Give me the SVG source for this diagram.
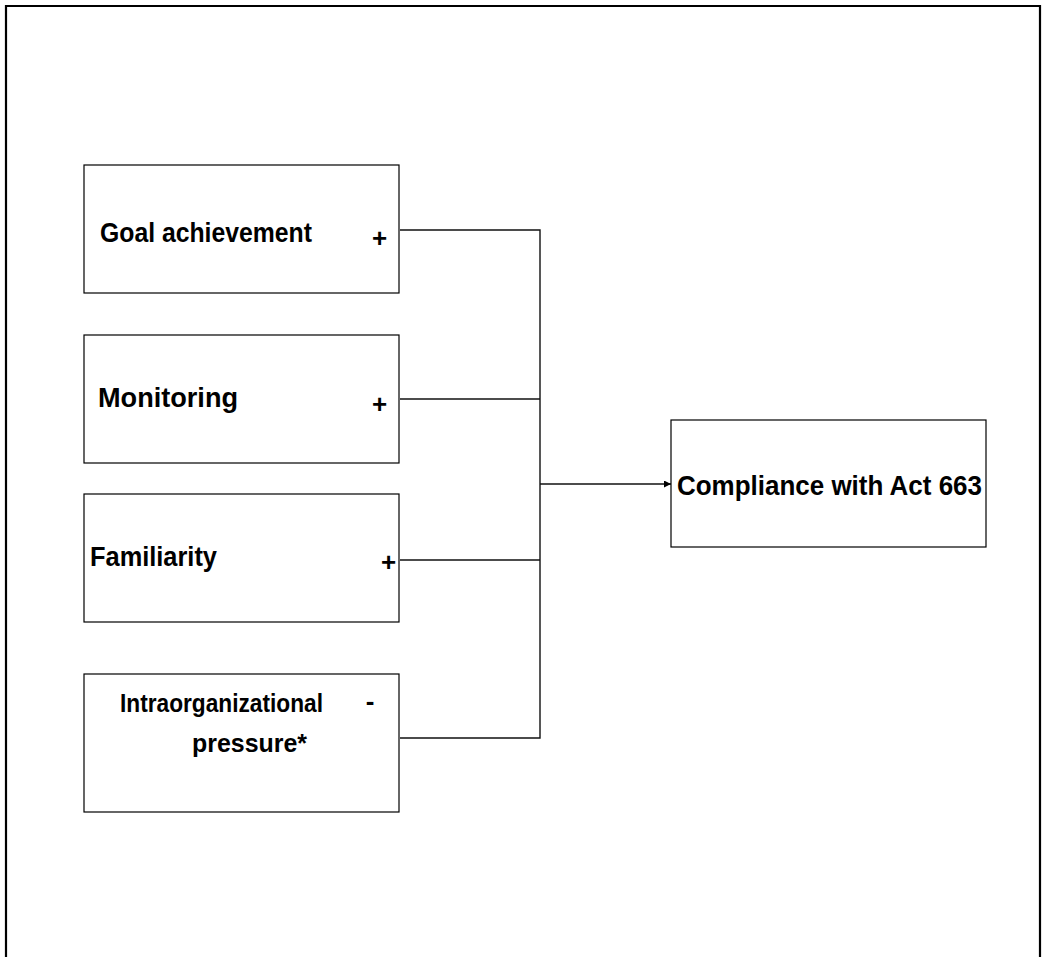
<svg xmlns="http://www.w3.org/2000/svg" width="1045" height="957" viewBox="0 0 1045 957">
<style>
.frame{fill:none;stroke:#000;stroke-width:2.2}
.box{fill:#fff;stroke:#000;stroke-width:1.2}
.conn{fill:none;stroke:#111;stroke-width:1.4}
.t{font-family:"Liberation Sans",Arial,sans-serif;font-weight:bold;fill:#000}
.s{font-family:"Liberation Sans",Arial,sans-serif;font-weight:bold;fill:#000;font-size:26px;text-anchor:middle}
</style>
<defs>
<marker id="arr" viewBox="0 0 10 10" refX="10" refY="5" markerWidth="7" markerHeight="7" markerUnits="userSpaceOnUse" orient="auto">
<path d="M0,0 L10,5 L0,10 z" fill="#000"/>
</marker>
</defs>
<rect width="1045" height="957" fill="#fff"/>
<path class="frame" d="M6,960 V6 H1040 V960"/>
<g id="connectors">
<polyline class="conn" points="400,230 540,230 540,738 400,738"/>
<line class="conn" x1="400" y1="399" x2="540" y2="399"/>
<line class="conn" x1="400" y1="560" x2="540" y2="560"/>
<line class="conn" x1="540" y1="484" x2="671" y2="484" marker-end="url(#arr)"/>
</g>
<g id="goal">
<rect class="box" x="84" y="165" width="315" height="128"/>
<text class="t" x="100" y="242" font-size="28" textLength="212" lengthAdjust="spacingAndGlyphs">Goal achievement</text>
<text class="s" x="379.5" y="247">+</text>
</g>
<g id="monitoring">
<rect class="box" x="84" y="335" width="315" height="128"/>
<text class="t" x="98" y="407" font-size="27" textLength="140" lengthAdjust="spacingAndGlyphs">Monitoring</text>
<text class="s" x="379.5" y="413">+</text>
</g>
<g id="familiarity">
<rect class="box" x="84" y="494" width="315" height="128"/>
<text class="t" x="90" y="566" font-size="27" textLength="127" lengthAdjust="spacingAndGlyphs">Familiarity</text>
<text class="s" x="388.5" y="571">+</text>
</g>
<g id="intraorganizational">
<rect class="box" x="84" y="674" width="315" height="138"/>
<text class="t" x="120" y="712" font-size="26" textLength="203" lengthAdjust="spacingAndGlyphs">Intraorganizational</text>
<text class="s" x="370" y="710">-</text>
<text class="t" x="192" y="752" font-size="26" textLength="115" lengthAdjust="spacingAndGlyphs">pressure*</text>
</g>
<g id="compliance">
<rect class="box" x="671" y="420" width="315" height="127"/>
<text class="t" x="677" y="495" font-size="28" textLength="305" lengthAdjust="spacingAndGlyphs">Compliance with Act 663</text>
</g>
</svg>
